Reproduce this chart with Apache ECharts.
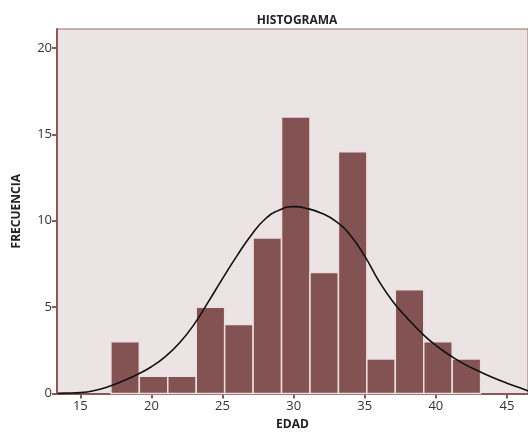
<!DOCTYPE html>
<html>
<head>
<meta charset="utf-8">
<script src="https://cdn.jsdelivr.net/npm/echarts@6/dist/echarts.min.js"></script>
<style>html,body{margin:0;padding:0;background:#fff}#c{width:528px;height:432px}</style>
</head>
<body>
<div id="c"></div>
<script>
// Histogram bins (EDAD)
const binStart = 17.15;
const binWidth = 2;
const counts = [3, 1, 1, 5, 4, 9, 16, 7, 14, 2, 6, 3, 2];
// Normal curve points
const curveX = [13.4, 14, 15, 16, 17, 18, 19, 20, 21, 22, 23, 24, 25, 26, 27, 28, 29, 30, 31, 32, 33, 34, 35, 36, 37, 38, 39, 40, 41, 42, 43, 44, 45, 46, 46.5];
const curveY = [0.01, 0.02, 0.05, 0.17, 0.4, 0.72, 1.1, 1.55, 2.15, 2.95, 4.0, 5.3, 6.65, 7.95, 9.15, 10.1, 10.62, 10.82, 10.7, 10.42, 9.95, 9.15, 7.95, 6.5, 5.3, 4.35, 3.5, 2.78, 2.2, 1.7, 1.3, 0.93, 0.6, 0.3, 0.15];
const xTicks = [15, 20, 25, 30, 35, 40, 45];
const yTicks = [0, 5, 10, 15, 20];

const barData = counts.map((c, i) => [binStart + i * binWidth, binStart + (i + 1) * binWidth, c]);
const lineData = curveX.map((x, i) => [x, curveY[i]]);

const axisColor = '#8a5858';
const labelColor = '#333';
const fontFam = '"Liberation Sans Narrow", "Open Sans", sans-serif';

const chart = echarts.init(document.getElementById('c'));
chart.setOption({
  animation: false,
  title: {
    text: 'HISTOGRAMA', left: 292, top: 10, textAlign: 'center',
    textStyle: { fontSize: 12, fontWeight: 'bold', color: '#222', fontFamily: fontFam }
  },
  grid: {
    left: 57, top: 29, right: 0, bottom: 38.5,
    outerBoundsMode: 'none', containLabel: false,
    show: true, backgroundColor: '#ece4e4', borderColor: '#9a6a6a', borderWidth: 1
  },
  xAxis: {
    type: 'value', min: 13.36, max: 46.48,
    name: 'EDAD', nameLocation: 'middle', nameGap: 25,
    nameTextStyle: { fontSize: 12, fontWeight: 'bold', color: '#222', fontFamily: fontFam },
    axisLine: { show: true, lineStyle: { color: axisColor, width: 2 } },
    axisTick: { show: true, customValues: xTicks, length: 5, lineStyle: { color: axisColor, width: 2 } },
    axisLabel: { customValues: xTicks, fontSize: 13, color: labelColor, margin: 6, fontFamily: fontFam },
    splitLine: { show: false }
  },
  yAxis: {
    type: 'value', min: 0, max: 21.1,
    name: 'FRECUENCIA', nameLocation: 'middle', nameGap: 34,
    nameTextStyle: { fontSize: 12, fontWeight: 'bold', color: '#222', fontFamily: fontFam },
    axisLine: { show: true, lineStyle: { color: axisColor, width: 2 } },
    axisTick: { show: true, customValues: yTicks, length: 5, lineStyle: { color: axisColor, width: 2 } },
    axisLabel: { customValues: yTicks, fontSize: 13, color: labelColor, margin: 5, fontFamily: fontFam },
    splitLine: { show: false }
  },
  series: [
    {
      type: 'custom',
      renderItem: function (params, api) {
        const p0 = api.coord([api.value(0), api.value(2)]);
        const p1 = api.coord([api.value(1), 0]);
        return {
          type: 'rect',
          shape: { x: p0[0], y: p0[1], width: p1[0] - p0[0], height: p1[1] - p0[1] },
          style: { fill: '#835252', stroke: '#ecdede', lineWidth: 1.5 }
        };
      },
      encode: { x: [0, 1], y: 2 },
      data: barData,
      z: 2
    },
    {
      type: 'line', data: lineData, smooth: 0.5, showSymbol: false,
      lineStyle: { color: '#111', width: 1.6 }, z: 3
    }
  ]
});
</script>
</body>
</html>
